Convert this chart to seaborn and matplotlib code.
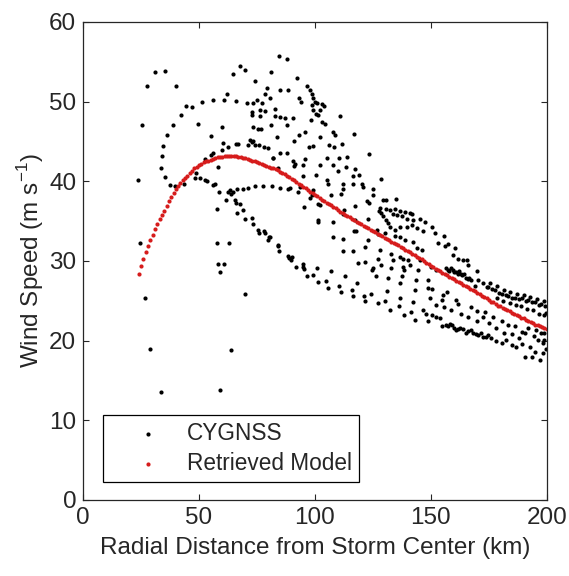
import numpy as np
import pandas as pd
import matplotlib
matplotlib.use("Agg")
import matplotlib.pyplot as plt
import seaborn as sns

# CYGNSS retrievals (radial distance km, wind speed m/s), grouped by track
isolated = [(23.6, 40.1), (24.4, 32.2), (26.6, 25.4), (29.0, 18.9), (33.5, 13.6),
            (57.6, 32.2), (62.8, 32.2), (58.0, 29.6), (60.6, 29.6), (58.9, 28.6),
            (69.8, 25.9), (63.9, 18.8), (59.1, 13.8)]

outer_arc = [(25.4, 47.0), (27.7, 52.0), (30.9, 53.7), (35.2, 53.8), (40.0, 51.9)]

inner_arc = [(33.8, 41.7), (33.9, 43.2), (34.5, 44.4), (36.2, 45.8), (38.8, 47.0),
             (42.1, 48.3), (44.4, 49.5), (47.1, 49.3), (49.6, 47.2), (51.3, 49.9),
             (55.9, 50.2), (60.8, 50.2), (61.9, 51.0), (66.0, 50.1), (70.6, 49.8),
             (73.2, 49.8), (75.1, 50.2), (77.0, 49.8)]

eye_low = [(35.2, 40.5), (37.4, 39.5), (39.8, 39.4), (43.5, 39.7), (48.3, 40.4),
           (48.8, 41.0), (50.4, 40.4), (52.6, 40.1), (53.5, 40.0), (55.9, 39.5),
           (56.9, 39.7), (58.8, 38.7), (62.5, 38.6), (63.2, 38.9), (64.0, 38.4),
           (64.7, 38.6), (61.6, 37.6), (57.9, 36.5)]

hook_upper = [(66.2, 39.0), (68.8, 39.0), (71.3, 39.2), (74.1, 39.4), (77.7, 39.4),
              (81.3, 39.4), (84.9, 39.2), (88.5, 39.0), (89.3, 39.1), (92.8, 38.6),
              (97.8, 37.9), (101.4, 37.2)]

hook_lower = [(65.5, 37.7), (66.0, 37.3), (67.7, 37.2), (66.2, 36.0), (69.0, 36.4),
              (69.8, 35.3), (73.0, 35.4), (73.4, 34.6), (75.4, 33.9), (76.0, 33.5),
              (78.1, 33.7), (78.4, 33.5), (79.6, 32.6), (80.2, 33.0), (80.5, 33.0),
              (83.9, 31.9), (84.0, 32.0), (84.5, 31.2), (88.5, 30.6), (88.8, 30.4),
              (89.9, 30.5), (89.7, 30.1), (91.7, 29.3), (94.7, 29.6), (94.8, 29.2),
              (95.3, 29.0), (96.4, 28.1), (99.3, 28.2), (100.7, 29.1), (101.2, 27.3),
              (104.7, 27.5), (105.7, 26.6), (106.9, 28.7), (110.5, 26.9), (111.1, 26.1),
              (112.9, 28.1), (115.8, 26.3), (116.2, 25.6), (118.0, 27.2), (121.3, 25.6),
              (121.6, 25.0), (124.1, 25.9), (127.2, 24.7), (130.2, 25.0), (131.2, 26.2),
              (132.3, 23.9), (136.3, 24.3), (136.6, 25.3), (138.6, 23.2), (141.6, 23.6),
              (142.1, 24.8), (143.1, 22.6), (146.7, 23.9), (148.1, 23.4), (148.8, 22.4),
              (150.3, 23.2), (152.4, 23.0), (153.9, 22.8), (154.6, 21.8), (158.2, 22.1),
              (160.0, 21.6), (161.8, 21.5), (163.9, 21.4), (166.1, 21.2), (168.2, 21.0),
              (170.4, 20.7), (172.5, 20.5), (174.7, 20.7), (176.1, 20.3), (178.3, 19.9),
              (180.5, 19.7), (182.6, 20.1), (184.8, 19.4), (186.9, 19.2), (189.1, 19.6),
              (190.5, 18.0), (192.7, 19.2), (194.8, 18.6), (197.0, 17.6), (198.4, 18.4),
              (198.9, 20.1), (156.5, 22.0), (157.3, 21.8), (159.1, 21.9), (161.0, 21.3),
              (162.7, 21.6), (165.0, 21.0), (167.2, 21.3), (169.3, 20.8), (171.5, 20.9),
              (173.6, 20.4), (193.5, 17.9), (199.5, 19.0)]

middle_band = [(112.2, 31.2), (116.6, 31.2), (118.7, 29.7), (121.6, 29.9), (124.4, 28.9),
               (126.3, 28.1), (127.3, 30.2), (131.6, 27.9), (133.0, 29.1), (133.5, 30.1),
               (136.6, 27.2), (137.4, 28.1), (138.5, 28.9), (138.1, 30.3), (140.2, 30.1),
               (143.1, 26.3), (143.5, 27.6), (144.5, 28.9), (145.3, 30.1), (148.8, 26.6),
               (148.6, 27.6), (150.3, 26.5), (149.6, 25.4), (154.9, 25.1), (155.3, 25.7),
               (156.8, 26.1), (161.0, 25.1), (161.6, 24.6), (167.5, 24.2), (169.7, 23.7),
               (172.5, 23.0), (173.3, 23.6), (176.9, 23.0), (180.5, 22.5), (183.3, 22.0),
               (186.2, 21.8), (189.1, 21.1), (190.5, 20.9), (194.4, 20.6), (196.3, 20.1),
               (197.7, 20.9), (198.4, 19.7), (175.0, 22.2), (178.0, 21.6), (181.5, 21.0),
               (185.0, 20.8), (188.0, 20.3), (192.0, 21.6), (195.5, 21.3), (199.0, 21.0),
               (170.0, 22.5), (166.0, 23.0), (163.0, 23.4), (158.5, 23.8), (155.5, 24.2),
               (152.0, 24.5), (125.2, 29.1), (128.7, 29.5), (138.0, 29.2), (140.9, 29.5)]

hook2 = [(127.6, 36.3), (128.0, 36.6), (128.7, 36.0), (129.5, 35.6), (130.6, 35.1),
         (131.6, 34.7), (130.6, 36.5), (132.4, 36.4), (134.5, 36.5), (136.7, 36.3),
         (138.8, 36.2), (141.0, 36.0), (141.7, 35.9), (133.5, 35.9), (135.5, 35.8),
         (137.4, 35.6), (139.6, 35.2), (142.4, 35.1), (145.3, 35.3), (147.5, 34.9),
         (150.6, 34.2), (151.7, 33.5), (155.7, 33.1), (132.3, 34.2), (134.5, 33.9),
         (136.7, 34.2), (139.5, 34.2), (141.7, 34.5), (143.9, 34.1), (146.7, 33.8),
         (130.2, 33.5), (134.5, 33.1), (136.7, 33.0), (138.8, 32.6), (142.4, 32.4),
         (143.9, 31.6), (146.0, 31.4), (152.9, 32.2), (155.9, 31.9), (157.3, 32.1),
         (160.3, 31.6), (159.6, 30.7), (161.8, 30.2), (164.0, 30.1), (165.4, 30.1),
         (166.1, 29.5), (169.7, 28.7), (150.0, 29.3), (152.4, 28.9), (156.6, 29.1),
         (157.3, 28.8), (158.0, 28.7), (158.7, 29.1), (159.4, 28.9), (160.1, 28.6),
         (160.8, 28.6), (161.5, 28.4), (162.2, 28.7), (162.9, 28.3), (163.6, 28.2),
         (164.4, 28.4), (165.1, 27.9), (165.8, 27.7), (166.5, 27.9), (167.5, 27.6),
         (169.0, 26.9), (170.4, 27.6), (172.6, 27.2), (174.0, 26.7)]

outer_band = [(174.7, 26.7), (175.5, 27.2), (176.4, 26.5), (177.6, 26.3), (178.6, 26.8),
              (179.5, 26.0), (180.5, 25.9), (181.5, 26.4), (182.4, 25.7), (183.3, 25.6),
              (184.2, 26.1), (185.2, 25.4), (186.2, 25.4), (187.1, 25.9), (188.1, 25.2),
              (189.1, 25.3), (190.0, 25.7), (191.0, 25.0), (191.9, 25.1), (192.9, 25.5),
              (193.8, 24.8), (194.8, 24.9), (195.7, 25.2), (196.7, 24.5), (197.7, 24.6),
              (198.6, 25.0), (199.4, 24.3), (199.6, 23.5), (186.5, 24.5), (189.0, 24.3),
              (191.5, 24.0), (194.0, 23.8), (196.5, 23.4), (199.0, 23.2), (184.0, 24.7),
              (181.0, 25.0), (178.5, 25.3)]

upper_cloud = [(84.5, 55.7), (88.1, 55.3), (67.7, 54.5), (69.8, 54.0), (64.5, 53.5),
               (81.0, 53.7), (74.1, 52.6), (92.1, 53.0), (96.6, 51.9), (97.8, 51.4),
               (98.6, 51.0), (99.3, 50.4), (100.0, 50.0), (101.0, 49.8), (93.2, 50.4),
               (94.2, 49.9), (98.6, 49.6), (99.3, 49.0), (100.5, 48.5), (78.4, 51.0),
               (79.2, 51.7), (80.6, 50.5), (84.9, 51.4), (88.5, 51.4), (72.7, 48.7),
               (72.7, 48.3), (76.3, 49.0), (76.1, 48.2), (78.4, 48.8), (82.8, 49.1),
               (82.8, 48.2), (87.0, 48.0), (88.0, 47.0), (80.9, 47.0), (73.4, 46.8),
               (75.3, 46.5), (76.6, 46.5), (59.9, 46.8), (55.2, 45.7), (83.8, 45.5),
               (91.1, 45.0), (93.3, 45.8), (60.5, 44.8), (62.6, 44.3), (66.0, 44.7),
               (67.0, 44.7), (71.3, 44.6), (72.0, 45.2), (72.7, 44.9), (73.4, 45.0),
               (74.1, 44.5), (76.0, 44.5), (78.2, 44.3), (79.9, 44.2), (59.8, 43.9),
               (55.0, 43.3), (56.2, 43.5), (52.6, 42.8), (58.3, 41.8), (84.9, 43.5),
               (87.8, 43.6), (99.3, 44.4), (90.7, 42.6), (95.7, 42.8), (81.7, 42.9),
               (84.1, 41.7), (95.0, 42.0), (91.1, 41.9), (101.4, 48.3), (98.1, 47.7),
               (91.4, 42.2), (95.0, 40.6), (100.4, 40.8), (95.3, 36.8), (101.4, 34.9),
               (82.0, 42.9), (90.6, 47.9), (84.9, 48.1), (102.2, 48.9), (105.0, 40.2),
               (99.3, 38.9), (93.4, 39.3), (103.0, 49.7), (104.0, 49.5), (103.2, 47.4),
               (104.2, 47.2), (107.9, 46.2), (108.6, 45.8), (110.8, 48.2), (111.5, 44.7),
               (106.0, 44.5), (102.0, 45.6), (116.8, 45.9), (95.7, 46.2), (97.6, 44.3),
               (102.2, 42.0), (123.3, 43.4), (128.4, 40.3), (130.6, 37.6), (134.9, 37.8)]

mid_cloud = [(108.2, 44.3), (105.0, 42.9), (110.5, 42.9), (113.7, 43.0), (107.6, 42.0),
             (113.4, 41.8), (117.2, 41.5), (110.1, 41.3), (119.1, 40.8), (116.5, 40.6),
             (105.8, 39.7), (111.9, 39.7), (116.2, 39.6), (120.1, 39.7), (120.8, 39.3),
             (112.2, 39.0), (124.9, 39.0), (98.6, 38.3), (106.8, 38.3), (111.1, 38.4),
             (125.2, 38.3), (123.4, 37.3), (122.5, 37.5), (102.2, 37.0), (117.2, 36.9),
             (112.5, 36.4), (129.4, 37.6), (126.6, 33.9), (127.3, 33.4), (101.5, 35.1),
             (107.9, 34.9), (111.9, 35.9), (117.2, 35.1), (122.9, 35.2), (117.0, 33.8),
             (117.8, 33.8), (122.9, 32.6), (127.9, 31.4), (133.0, 30.9), (136.7, 30.5),
             (107.6, 33.0), (112.2, 32.7), (121.5, 31.8)]

# Retrieved wind profile model, 1 km steps from 24 to 200 km
model_r = np.arange(24, 201)
model_ws = [28.3, 29.4, 30.3, 31.1, 31.9, 32.6, 33.3, 34.0, 34.6, 35.2,
            35.8, 36.3, 36.9, 37.5, 38.0, 38.5, 39.0, 39.4, 39.8, 40.1,
            40.4, 40.7, 41.0, 41.3, 41.6, 41.8, 42.0, 42.2, 42.4, 42.5,
            42.6, 42.7, 42.8, 42.9, 43.0, 43.05, 43.1, 43.15, 43.2, 43.2,
            43.2, 43.2, 43.15, 43.1, 43.0, 42.95, 42.9, 42.8, 42.7, 42.6,
            42.5, 42.4, 42.3, 42.2, 42.05, 41.9, 41.8, 41.7, 41.6, 41.5,
            41.35, 41.2, 41.0, 40.85, 40.7, 40.5, 40.3, 40.1, 39.9, 39.7,
            39.5, 39.3, 39.1, 38.9, 38.7, 38.5, 38.3, 38.1, 37.9, 37.7,
            37.5, 37.3, 37.1, 37.0, 36.8, 36.6, 36.4, 36.2, 36.0, 35.8,
            35.6, 35.5, 35.3, 35.1, 34.9, 34.8, 34.6, 34.4, 34.3, 34.1,
            33.9, 33.8, 33.6, 33.4, 33.3, 33.1, 32.9, 32.8, 32.6, 32.4,
            32.3, 32.1, 32.0, 31.8, 31.6, 31.4, 31.3, 31.1, 30.9, 30.7,
            30.5, 30.4, 30.2, 30.0, 29.8, 29.6, 29.4, 29.2, 29.0, 28.9,
            28.7, 28.5, 28.4, 28.2, 28.0, 27.9, 27.7, 27.5, 27.4, 27.2,
            27.0, 26.9, 26.7, 26.5, 26.3, 26.2, 26.0, 25.8, 25.6, 25.5,
            25.3, 25.1, 24.9, 24.8, 24.6, 24.4, 24.3, 24.1, 24.0, 23.8,
            23.7, 23.5, 23.4, 23.2, 23.1, 22.9, 22.8, 22.6, 22.5, 22.3,
            22.2, 22.0, 21.9, 21.8, 21.7, 21.6, 21.5]

cyg = pd.DataFrame(isolated + outer_arc + inner_arc + eye_low + hook_upper + hook_lower
                   + middle_band + hook2 + outer_band + upper_cloud + mid_cloud,
                   columns=["r", "ws"])
model = pd.DataFrame({"r": model_r, "ws": model_ws})

sns.set_style("ticks")
plt.rcParams["font.family"] = ["Liberation Sans", "DejaVu Sans"]
text_col = "#262626"
fs = 17.5

fig = plt.figure(figsize=(5.69, 5.76), dpi=100)
ax = fig.add_axes([0.146, 0.132, 0.815, 0.830])

sns.scatterplot(data=cyg, x="r", y="ws", ax=ax, color="black", s=9,
                linewidth=0, label="CYGNSS")
sns.scatterplot(data=model, x="r", y="ws", ax=ax, color="#d61c1c", s=9,
                linewidth=0, label="Retrieved Model")

ax.set_xlim(0, 200)
ax.set_ylim(0, 60)
ax.set_xticks([0, 50, 100, 150, 200])
ax.set_yticks([0, 10, 20, 30, 40, 50, 60])
ax.tick_params(direction="in", length=4, width=0.8, top=True, right=True,
               labelsize=fs, colors=text_col, pad=5)
for sp in ax.spines.values():
    sp.set_visible(True)
    sp.set_color(text_col)
    sp.set_linewidth(0.9)

ax.set_xlabel("Radial Distance from Storm Center (km)", fontsize=fs, color=text_col, labelpad=6)
ax.set_ylabel("Wind Speed (m s$^{\\mathregular{-1}}$)", fontsize=fs, color=text_col, labelpad=2)

leg = ax.legend(loc="lower left", bbox_to_anchor=(0.043, 0.038), fontsize=16.3,
                frameon=True, fancybox=False, framealpha=1, edgecolor="black",
                markerscale=1.0, handletextpad=0.05, borderpad=0.3, labelspacing=0.3,
                handlelength=3.35, borderaxespad=0)
leg.get_frame().set_linewidth(0.9)
for t in leg.get_texts():
    t.set_color(text_col)

fig.savefig("out.png", dpi=100)
